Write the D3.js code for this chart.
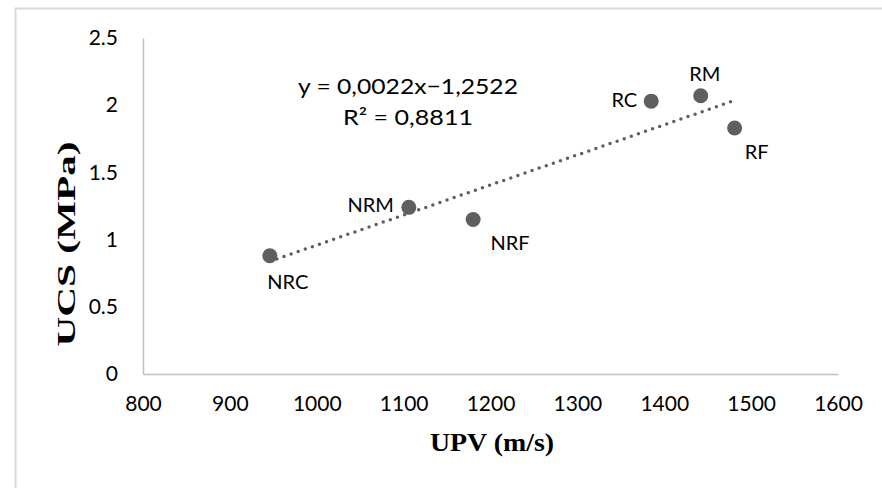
<!DOCTYPE html>
<html>
<head>
<meta charset="utf-8">
<script src="https://cdn.jsdelivr.net/npm/d3@7"></script>
<style>
  html, body { margin: 0; padding: 0; background: #fff; }
  #chart { width: 882px; height: 488px; }
</style>
</head>
<body>
<div id="chart"></div>
<script>
// data
const names = ['NRC', 'NRM', 'NRF', 'RC', 'RM', 'RF'];
const upv = [946, 1106, 1180, 1385, 1442, 1481];
const ucs = [0.88, 1.24, 1.15, 2.03, 2.07, 1.83];
const xTicks = [800, 900, 1000, 1100, 1200, 1300, 1400, 1500, 1600];
const yTicks = [0, 0.5, 1, 1.5, 2, 2.5];
const eqLines = ['y = 0,0022x\u22121,2522', 'R\u00b2 = 0,8811'];

// label placement relative to point: [dx, dy, anchor]
const labelPos = {
    NRC: [18, 26, 'middle'],
    NRM: [-15, -2, 'end'],
    NRF: [37, 24, 'middle'],
    RC: [-14, -1, 'end'],
    RM: [4, -22, 'middle'],
    RF: [22, 24, 'middle']
};

const W = 882, H = 488;
const margin = { top: 38, right: 44, bottom: 114, left: 143 };
const w = W - margin.left - margin.right;
const h = H - margin.top - margin.bottom;
const grey = '#5f5f5f';
const tickFont = 'Lato, "Open Sans", sans-serif';
const serif = '"Liberation Serif", "Times New Roman", serif';

const root = d3.select('#chart')
    .append('svg')
    .attr('width', W)
    .attr('height', H);

// outer frame (only top/left visible)
root.append('rect')
    .attr('x', 15.5).attr('y', 8.5)
    .attr('width', W + 20).attr('height', H + 20)
    .attr('fill', 'none')
    .attr('stroke', '#d9d9d9')
    .attr('stroke-width', 2);

const svg = root.append('g')
    .attr('transform', `translate(${margin.left}, ${margin.top})`);

const xScale = d3.scaleLinear().domain([800, 1600]).range([0, w]);
const yScale = d3.scaleLinear().domain([0, 2.5]).range([h, 0]);

// axes
const xAxis = d3.axisBottom(xScale).tickValues(xTicks).tickSize(0).tickPadding(22)
    .tickFormat(d3.format('d'));
const gx = svg.append('g').attr('transform', `translate(0, ${h})`).call(xAxis);
gx.select('.domain').attr('stroke', '#bfbfbf').attr('stroke-width', 1.5);
gx.selectAll('text').attr('font-family', tickFont).attr('font-size', 21).attr('fill', '#000');

const yAxis = d3.axisLeft(yScale).tickValues(yTicks).tickSize(0).tickPadding(25)
    .tickFormat(d => d === 0 ? '0' : String(d));
const gy = svg.append('g').call(yAxis);
gy.select('.domain').attr('stroke', '#bfbfbf').attr('stroke-width', 1.5);
gy.selectAll('text').attr('font-family', tickFont).attr('font-size', 21).attr('fill', '#000');

// axis titles
root.append('text')
    .attr('x', 492).attr('y', 451)
    .attr('text-anchor', 'middle')
    .attr('font-family', serif)
    .attr('font-weight', 'bold')
    .attr('font-size', 26)
    .attr('textLength', 124)
    .attr('lengthAdjust', 'spacingAndGlyphs')
    .text('UPV (m/s)');

root.append('text')
    .attr('transform', 'translate(75, 244) rotate(-90)')
    .attr('text-anchor', 'middle')
    .attr('font-family', serif)
    .attr('font-weight', 'bold')
    .attr('font-size', 26)
    .attr('textLength', 205)
    .attr('lengthAdjust', 'spacingAndGlyphs')
    .text('UCS (MPa)');

// linear trendline (least squares over the points)
const mx = d3.mean(upv), my = d3.mean(ucs);
const slope = d3.sum(upv, (x, i) => (x - mx) * (ucs[i] - my)) / d3.sum(upv, x => (x - mx) * (x - mx));
const icpt = my - slope * mx;
const ext = d3.extent(upv);
const line = d3.line()
    .x(d => xScale(d))
    .y(d => yScale(slope * d + icpt));
svg.append('path')
    .datum(ext)
    .attr('d', line)
    .attr('fill', 'none')
    .attr('stroke', grey)
    .attr('stroke-width', 3.5)
    .attr('stroke-linecap', 'round')
    .attr('stroke-dasharray', '0 7.5');

// points
const pts = names.map((n, i) => ({ name: n, x: upv[i], y: ucs[i] }));
svg.selectAll('circle.pt')
    .data(pts)
    .enter()
    .append('circle')
    .attr('class', 'pt')
    .attr('cx', d => xScale(d.x))
    .attr('cy', d => yScale(d.y))
    .attr('r', 7.5)
    .attr('fill', grey);

svg.selectAll('text.lbl')
    .data(pts)
    .enter()
    .append('text')
    .attr('class', 'lbl')
    .attr('x', d => xScale(d.x) + labelPos[d.name][0])
    .attr('y', d => yScale(d.y) + labelPos[d.name][1])
    .attr('dy', '0.35em')
    .attr('text-anchor', d => labelPos[d.name][2])
    .attr('font-family', tickFont)
    .attr('font-size', 20)
    .attr('fill', '#000')
    .text(d => d.name);

// equation
const eqWidths = [220, 130];
root.append('g')
    .selectAll('text')
    .data(eqLines)
    .enter()
    .append('text')
    .attr('x', 408)
    .attr('y', (d, i) => 94 + i * 31)
    .attr('text-anchor', 'middle')
    .attr('font-family', tickFont)
    .attr('font-size', 22)
    .attr('textLength', (d, i) => eqWidths[i])
    .attr('lengthAdjust', 'spacingAndGlyphs')
    .attr('fill', '#000')
    .text(d => d);
</script>
</body>
</html>
